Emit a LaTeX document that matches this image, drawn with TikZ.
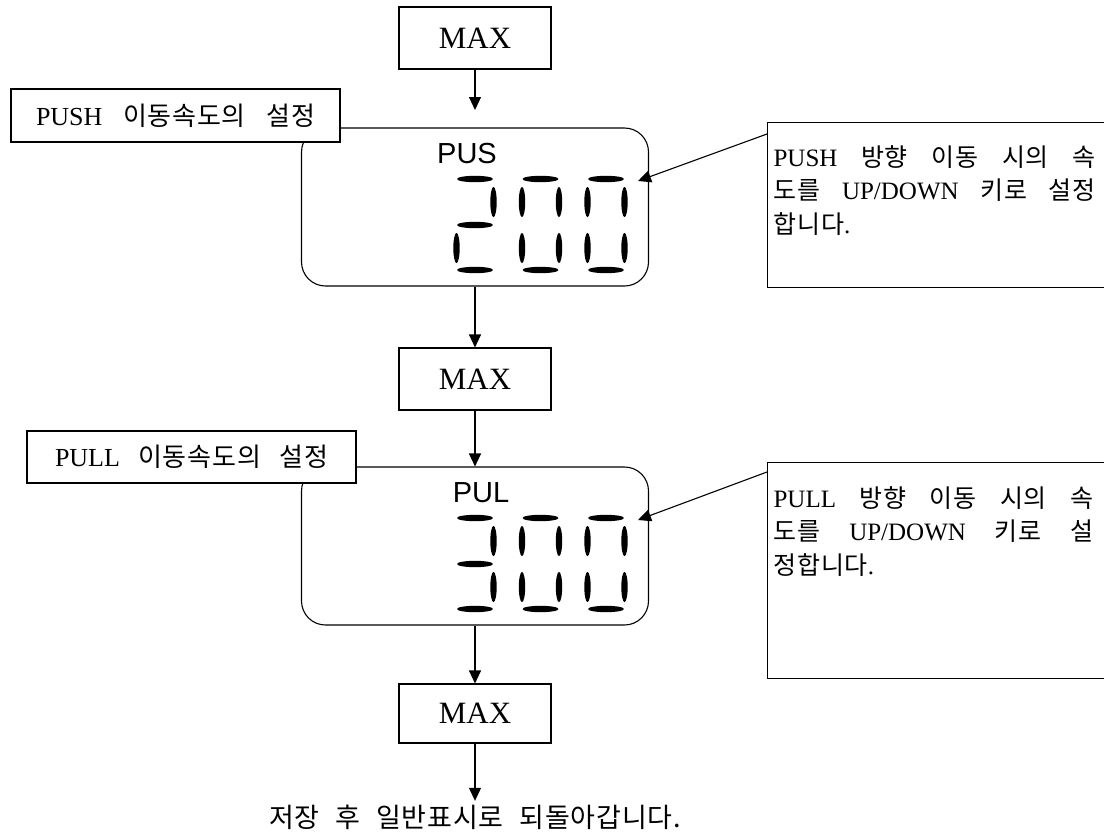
\documentclass[tikz,border=0pt]{standalone}
\usepackage{fontspec}
\setmainfont{Liberation Serif}
\newfontfamily\kr{Noto Sans CJK KR}[Scale=1.0,LetterSpace=3]
\newfontfamily\lcd{Liberation Sans}
\usetikzlibrary{arrows.meta}

\begin{document}
\begin{tikzpicture}[x=1pt, y=-1pt, line width=1.1pt,
    box/.style={draw, fill=white, inner sep=0pt},
    disp/.style={draw, rounded corners=24pt, minimum width=347pt, minimum height=158pt},
    arr/.style={-{Triangle[length=13pt,width=12pt]}},
    seg/.style={fill=black}]
    \useasboundingbox (0,0) rectangle (1104,836);

    % MAX boxes
    \node[box, minimum width=152pt, minimum height=62pt, font=\fontsize{31}{31}\selectfont] (max1) at (475,38) {MAX};
    \node[box, minimum width=152pt, minimum height=62pt, font=\fontsize{31}{31}\selectfont] (max2) at (475,379) {MAX};
    \node[box, minimum width=152pt, minimum height=59pt, font=\fontsize{31}{31}\selectfont] (max3) at (475,713.5) {MAX};

    % PUSH display
    \node[disp] (disp1) at (475,207) {};
    \node[font=\lcd\fontsize{29}{29}\selectfont] (pus) at (467,154) {PUS};
    \foreach \x/\y in {475/179,475/225,475/270,540.5/179,540.5/270,606/179,606/270}
        \fill[seg] (\x,\y) ellipse [x radius=18pt, y radius=3.2pt];
    \foreach \x/\y in {493.5/202,456.5/248,522/202,559/202,522/248,559/248,587.5/202,624.5/202,587.5/248,624.5/248}
        \fill[seg] (\x,\y) ellipse [x radius=3.2pt, y radius=15pt];

    % PULL display
    \node[disp] (disp2) at (475,546) {};
    \node[font=\lcd\fontsize{29}{29}\selectfont] (pul) at (481,493) {PUL};
    \begin{scope}[shift={(0,339)}]
        \foreach \x/\y in {475/179,475/225,475/270,540.5/179,540.5/270,606/179,606/270}
            \fill[seg] (\x,\y) ellipse [x radius=18pt, y radius=3.2pt];
        \foreach \x/\y in {493.5/202,493.5/248,522/202,559/202,522/248,559/248,587.5/202,624.5/202,587.5/248,624.5/248}
            \fill[seg] (\x,\y) ellipse [x radius=3.2pt, y radius=15pt];
    \end{scope}

    % labels
    \node[box, minimum width=329pt, minimum height=53pt, font=\fontsize{26}{26}\selectfont] (lab1) at (175.5,115.5)
        {\makebox[279pt][s]{PUSH {\kr 이동속도의} {\kr 설정}}};
    \node[box, minimum width=329pt, minimum height=52pt, font=\fontsize{26}{26}\selectfont] (lab2) at (191.5,457)
        {\makebox[273pt][s]{PULL {\kr 이동속도의} {\kr 설정}}};

    % notes
    \node[box, anchor=north west, minimum width=345pt, minimum height=165pt] (note1) at (767,122) {};
    \node[anchor=north west, inner sep=0pt, align=left, font=\fontsize{25}{33.5}\selectfont] (txt1) at (773,145)
        {\makebox[322pt][s]{PUSH {\kr 방향} {\kr 이동} {\kr 시의} {\kr 속}}\\
         \makebox[322pt][s]{{\kr 도를} UP/DOWN {\kr 키로} {\kr 설정}}\\
         {\kr 합니다}.};
    \node[box, anchor=north west, minimum width=345pt, minimum height=216pt] (note2) at (767,462) {};
    \node[anchor=north west, inner sep=0pt, align=left, font=\fontsize{25}{33.5}\selectfont] (txt2) at (773,486)
        {\makebox[320pt][s]{PULL {\kr 방향} {\kr 이동} {\kr 시의} {\kr 속}}\\
         \makebox[320pt][s]{{\kr 도를} UP/DOWN {\kr 키로} {\kr 설}}\\
         {\kr 정합니다}.};
    \coordinate (tip1) at (638,181);
    \coordinate (tip2) at (638,520);

    % end text
    \node[font=\fontsize{27}{27}\selectfont] (done) at (475,817)
        {\makebox[412pt][s]{\kr 저장 후 일반표시로 되돌아갑니다.}};

    % arrows
    \coordinate (a1) at (475,110);
    \draw[arr] (max1.south) -- (a1);
    \draw[arr] (disp1.south) -- (max2.north);
    \draw[arr] (max2.south) -- (disp2.north);
    \draw[arr] (disp2.south) -- (max3.north);
    \draw[arr] (max3.south) -- (done.north);
    \draw[arr] ([yshift=-12pt]note1.north west) -- (tip1);
    \draw[arr] ([yshift=-10pt]note2.north west) -- (tip2);
\end{tikzpicture}
\end{document}
